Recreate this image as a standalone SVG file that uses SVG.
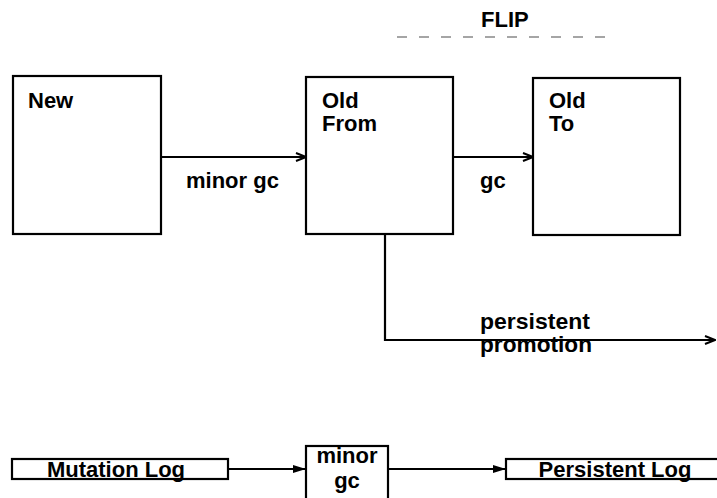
<svg xmlns="http://www.w3.org/2000/svg" width="717" height="498" viewBox="0 0 717 498">
<style>
.box{fill:#fff;stroke:#000;stroke-width:2.2}
.ln{fill:none;stroke:#000;stroke-width:2.2}
text{font-family:"Liberation Sans",Arial,sans-serif;font-weight:bold;font-size:22px;fill:#000}
</style>
<defs>
<marker id="open" markerWidth="12" markerHeight="10" refX="11" refY="5" orient="auto" markerUnits="userSpaceOnUse">
<path d="M1,1 L11,5 L1,9" fill="none" stroke="#000" stroke-width="2"/>
</marker>
<marker id="fill" markerWidth="14" markerHeight="10" refX="13" refY="5" orient="auto" markerUnits="userSpaceOnUse">
<path d="M0,1 L13,5 L0,9 Z" fill="#000"/>
</marker>
</defs>
<g id="title">
<text x="481" y="27">FLIP</text>
<line x1="397" y1="37" x2="617" y2="37" stroke="#888" stroke-width="1.5" stroke-dasharray="10,12"/>
</g>
<g id="new">
<rect class="box" x="13" y="76" width="148" height="158"/>
<text x="28" y="108">New</text>
</g>
<g id="old-from">
<rect class="box" x="306" y="77" width="147" height="157"/>
<text x="322" y="108">Old</text>
<text x="322" y="131">From</text>
</g>
<g id="old-to">
<rect class="box" x="533" y="78" width="147" height="157"/>
<text x="549" y="108">Old</text>
<text x="549" y="131">To</text>
</g>
<g id="mutation-log">
<rect class="box" x="12" y="459" width="216" height="20"/>
<text x="116" y="477" text-anchor="middle">Mutation Log</text>
</g>
<g id="minor-gc-box">
<rect class="box" x="306" y="446" width="82" height="56"/>
<text x="347" y="463" text-anchor="middle" font-size="21">minor</text>
<text x="347" y="488" text-anchor="middle" font-size="21">gc</text>
</g>
<g id="persistent-log">
<rect class="box" x="506" y="459" width="215" height="20"/>
<text x="615" y="477" text-anchor="middle">Persistent Log</text>
</g>
<g id="connectors">
<line class="ln" x1="161" y1="157" x2="306" y2="157" marker-end="url(#open)"/>
<text x="186" y="188">minor gc</text>
<line class="ln" x1="453" y1="157" x2="533" y2="157" marker-end="url(#open)"/>
<text x="480" y="188">gc</text>
<path class="ln" d="M385,234 V340 H715" marker-end="url(#open)"/>
<text x="480" y="329" font-size="19" textLength="110" lengthAdjust="spacingAndGlyphs">persistent</text>
<text x="480" y="352" font-size="19" textLength="112" lengthAdjust="spacingAndGlyphs">promotion</text>
<line class="ln" x1="228" y1="469" x2="306" y2="469" marker-end="url(#fill)"/>
<line class="ln" x1="388" y1="469" x2="506" y2="469" marker-end="url(#fill)"/>
</g>
</svg>
